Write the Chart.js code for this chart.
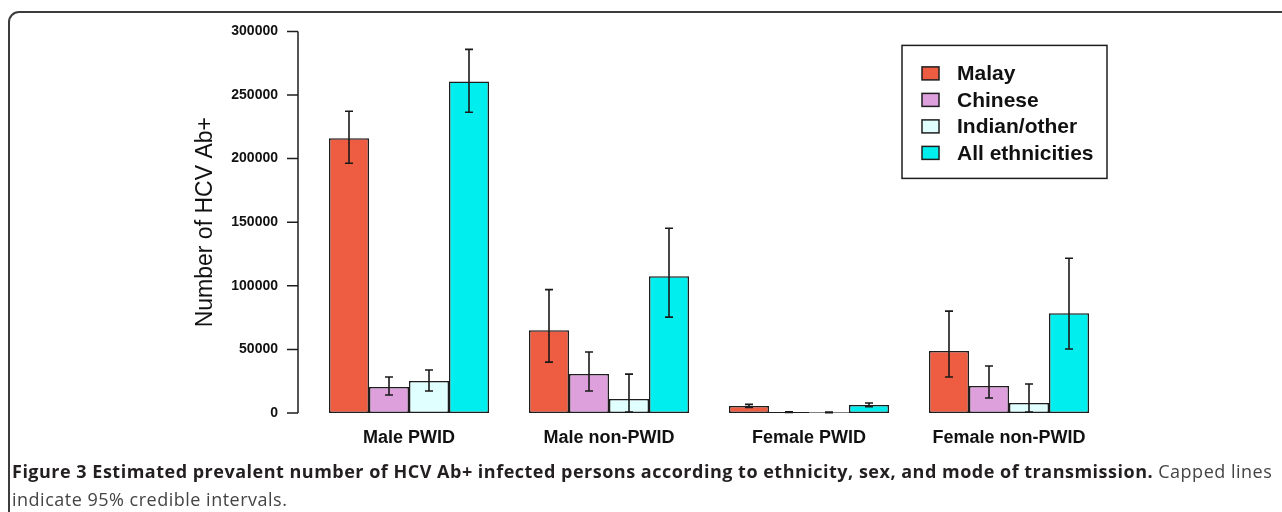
<!DOCTYPE html>
<html>
<head>
<meta charset="utf-8">
<script src="https://cdn.jsdelivr.net/npm/chart.js@4"></script>
<style>
  html, body { margin: 0; padding: 0; background: #fff; overflow: hidden; }
  #frame {
    position: absolute; left: 8px; top: 11px; width: 1300px; height: 540px;
    border: 2px solid #3c3c3c; border-top-left-radius: 11px; box-sizing: border-box;
  }
  #wrap { position: absolute; left: 0; top: -8px; width: 1282px; height: 512px; }
  #caption {
    position: absolute; left: 12px; top: 457px; width: 1270px;
    font-family: "Open Sans", "Noto Sans", sans-serif; font-size: 18px; line-height: 28px;
    letter-spacing: 0.5px; color: #444; white-space: nowrap;
  }
  #caption b { color: #231f20; }
</style>
</head>
<body>
<div id="frame"></div>
<div id="wrap"><canvas id="myChart" width="1282" height="512"></canvas></div>
<div id="caption"><b>Figure 3 Estimated prevalent number of HCV Ab+ infected persons according to ethnicity, sex, and mode of transmission.</b> Capped lines<br>indicate 95% credible intervals.</div>
<script>
// Categories (sex / mode of transmission)
const categories = ["Male PWID", "Male non-PWID", "Female PWID", "Female non-PWID"];

// Estimated HCV Ab+ counts with 95% credible interval bounds
const malay = [216000, 65000, 5500, 48700];
const malayLo = [196300, 40000, 4300, 28300];
const malayHi = [237200, 97000, 6800, 80100];

const chinese = [20400, 30600, 700, 21200];
const chineseLo = [14100, 17300, 400, 11800];
const chineseHi = [28300, 47900, 1000, 36900];

const indian = [25100, 11000, 500, 7900];
const indianLo = [17300, 800, 300, 800];
const indianHi = [33800, 30600, 800, 22800];

const allEth = [260700, 107600, 6300, 78500];
const allEthLo = [236400, 75400, 5000, 50300];
const allEthHi = [285900, 145300, 7900, 121700];

// y axis ticks
const yTicks = [0, 50000, 100000, 150000, 200000, 250000, 300000];

const FONT = "'Liberation Sans', Arial, sans-serif";

function makeSet(label, values, lo, hi, color) {
  return {
    label: label,
    data: values,
    lo: lo,
    hi: hi,
    backgroundColor: color,
    borderColor: "#1e1e1e",
    borderWidth: 1.5,
    borderSkipped: false,
    categoryPercentage: 0.8,
    barPercentage: 1.0,
  };
}

// R-style y axis: line and ticks sit left of the plot region
const rAxis = {
  id: "rAxis",
  afterDraw(chart) {
    const ctx = chart.ctx;
    const y = chart.scales.y;
    const x0 = chart.chartArea.left - 11;
    ctx.save();
    ctx.strokeStyle = "#1e1e1e";
    ctx.lineWidth = 1.5;
    ctx.beginPath();
    ctx.moveTo(x0, y.getPixelForValue(yTicks[0]));
    ctx.lineTo(x0, y.getPixelForValue(yTicks[yTicks.length - 1]));
    yTicks.forEach(v => {
      const py = y.getPixelForValue(v);
      ctx.moveTo(x0, py);
      ctx.lineTo(x0 - 11, py);
    });
    ctx.stroke();
    ctx.restore();
  }
};

// capped credible interval lines
const errorBars = {
  id: "errorBars",
  afterDatasetsDraw(chart) {
    const ctx = chart.ctx;
    const y = chart.scales.y;
    ctx.save();
    ctx.strokeStyle = "#1a1a1a";
    ctx.lineWidth = 1.6;
    chart.data.datasets.forEach((ds, i) => {
      const meta = chart.getDatasetMeta(i);
      meta.data.forEach((bar, j) => {
        const top = y.getPixelForValue(ds.hi[j]);
        const bot = y.getPixelForValue(ds.lo[j]);
        ctx.beginPath();
        ctx.moveTo(bar.x, top);
        ctx.lineTo(bar.x, bot);
        ctx.moveTo(bar.x - 4, top);
        ctx.lineTo(bar.x + 4, top);
        ctx.moveTo(bar.x - 4, bot);
        ctx.lineTo(bar.x + 4, bot);
        ctx.stroke();
      });
    });
    ctx.restore();
  }
};

// boxed legend in the top right of the plot
const boxLegend = {
  id: "boxLegend",
  afterDraw(chart) {
    const ctx = chart.ctx;
    const a = chart.chartArea;
    const bx = a.right - 207, by = a.top + 14, bw = 205, bh = 133;
    ctx.save();
    ctx.strokeStyle = "#1e1e1e";
    ctx.lineWidth = 1.5;
    ctx.strokeRect(bx, by, bw, bh);
    ctx.font = "bold 21px " + FONT;
    ctx.textBaseline = "middle";
    chart.data.datasets.forEach((ds, i) => {
      const cy = by + 28 + i * 26.5;
      ctx.fillStyle = ds.backgroundColor;
      ctx.fillRect(bx + 20, cy - 6.5, 17, 13);
      ctx.strokeRect(bx + 20, cy - 6.5, 17, 13);
      ctx.fillStyle = "#111";
      ctx.fillText(ds.label, bx + 55, cy + 1);
    });
    ctx.restore();
  }
};

const data = {
  labels: categories,
  datasets: [
    makeSet("Malay", malay, malayLo, malayHi, "#EE5C42"),
    makeSet("Chinese", chinese, chineseLo, chineseHi, "#DDA0DD"),
    makeSet("Indian/other", indian, indianLo, indianHi, "#E0FFFF"),
    makeSet("All ethnicities", allEth, allEthLo, allEthHi, "#00EEEE"),
  ],
};

const config = {
  type: "bar",
  data: data,
  options: {
    responsive: false,
    animation: false,
    layout: { padding: { left: 189, right: 173, top: 23, bottom: 51 } },
    plugins: {
      legend: { display: false },
      tooltip: { enabled: false },
    },
    scales: {
      x: {
        grid: { display: false, drawTicks: false },
        border: { display: false },
        ticks: { color: "#111", padding: 14, font: { family: FONT, size: 18, weight: "bold" } },
        afterFit: s => { s.height = 40; },
      },
      y: {
        min: 0,
        max: 300000,
        afterBuildTicks: s => { s.ticks = yTicks.map(v => ({ value: v })); },
        grid: { display: false, drawTicks: false },
        border: { display: false },
        ticks: {
          color: "#111",
          padding: 31,
          font: { family: FONT, size: 14, weight: "bold" },
          callback: v => String(v),
        },
        title: {
          display: true,
          text: "Number of HCV Ab+",
          color: "#111",
          font: { family: FONT, size: 23 },
          padding: { top: 3, bottom: 3 },
        },
        afterFit: s => { s.width = 120; },
      },
    },
  },
  plugins: [rAxis, errorBars, boxLegend],
};

const myChart = new Chart(document.getElementById("myChart"), config);
</script>
</body>
</html>
